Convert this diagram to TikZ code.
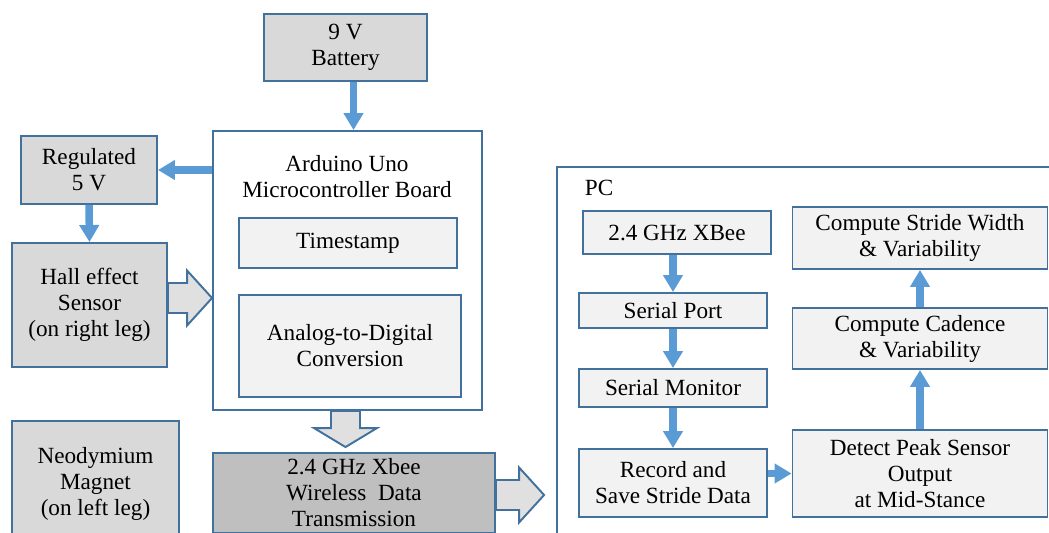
\documentclass[tikz,border=0pt]{standalone}
\usepackage{fontspec}
\setmainfont{Liberation Serif}
\usetikzlibrary{arrows.meta,calc}

\definecolor{edgeblue}{RGB}{65,113,156}
\definecolor{flowblue}{RGB}{91,155,213}
\definecolor{boxgray}{RGB}{217,217,217}
\definecolor{boxlight}{RGB}{242,242,242}
\definecolor{boxdark}{RGB}{191,191,191}
\definecolor{hollowgray}{RGB}{224,224,224}

\newcommand{\fatright}[2]{%
	\draw[hollow] let \p1=(#1), \p2=(#2) in
		(\x1,\y1+0.3cm) -- (\x2-0.5cm,\y1+0.3cm) -- (\x2-0.5cm,\y1+0.55cm) -- (\x2,\y1)
		-- (\x2-0.5cm,\y1-0.55cm) -- (\x2-0.5cm,\y1-0.3cm) -- (\x1,\y1-0.3cm) -- cycle;}
\newcommand{\fatdown}[2]{%
	\draw[hollow] let \p1=(#1), \p2=(#2) in
		(\x1-0.29cm,\y1) -- (\x1-0.29cm,\y2+0.38cm) -- (\x1-0.63cm,\y2+0.38cm) -- (\x1,\y2)
		-- (\x1+0.63cm,\y2+0.38cm) -- (\x1+0.29cm,\y2+0.38cm) -- (\x1+0.29cm,\y1) -- cycle;}

\begin{document}
\begin{tikzpicture}[x=0.02cm, y=-0.02cm, line width=1.1pt,
		box/.style={draw=edgeblue, align=center, inner sep=0pt, font=\fontsize{13.2}{14.8}\selectfont},
		graybox/.style={box, fill=boxgray},
		lightbox/.style={box, fill=boxlight},
		darkbox/.style={box, fill=boxdark},
		flow/.style={draw=flowblue, line width=0.15cm, -{Triangle[width=0.38cm, length=0.34cm]}},
		hollow/.style={draw=edgeblue, fill=hollowgray, line join=miter}]

	\clip (0,0) rectangle (1049,532);

	\node[graybox, minimum width=3.26cm, minimum height=1.34cm] (bat) at (345.5,47.5) {9 V\\Battery};
	\node[box, minimum width=5.38cm, minimum height=5.58cm] (ard) at (347.5,270.5) {};
	\node[box, draw=none] (ardtitle) at (347,177) {Arduino Uno\\Microcontroller Board};
	\node[lightbox, minimum width=4.36cm, minimum height=1.0cm] (stamp) at (348,243) {Timestamp};
	\node[lightbox, minimum width=4.44cm, minimum height=2.04cm] (adc) at (350,346) {Analog-to-Digital\\Conversion};
	\node[graybox, minimum width=2.72cm, minimum height=1.36cm] (reg) at (89,170) {Regulated\\5 V};
	\node[graybox, minimum width=3.1cm, minimum height=2.48cm] (hall) at (89.5,305) {Hall effect\\Sensor\\(on right leg)};
	\node[graybox, minimum width=3.34cm, minimum height=2.52cm] (magnet) at (95.5,484) {Neodymium\\Magnet\\(on left leg)};
	\node[darkbox, minimum width=5.64cm, minimum height=1.6cm] (xtx) at (354,493) {2.4 GHz Xbee\\Wireless\ \ Data\\Transmission};

	\node[box, minimum width=10.6cm, minimum height=7.6cm] (pc) at (822,357) {};
	\node[box, draw=none, anchor=west] (pclabel) at (584,188) {PC};
	\node[lightbox, minimum width=3.76cm, minimum height=0.86cm] (xrx) at (677,232.5) {2.4 GHz XBee};
	\node[lightbox, minimum width=3.76cm, minimum height=0.7cm] (port) at (673,310.5) {Serial Port};
	\node[lightbox, minimum width=3.76cm, minimum height=0.76cm] (mon) at (673,388) {Serial Monitor};
	\node[lightbox, minimum width=3.76cm, minimum height=1.36cm] (rec) at (673,483) {Record and\\Save Stride Data};
	\node[lightbox, minimum width=5.1cm, minimum height=1.74cm] (peak) at (920,473.5) {Detect Peak Sensor\\Output\\at Mid-Stance};
	\node[lightbox, minimum width=5.1cm, minimum height=1.22cm] (cad) at (920,338.5) {Compute Cadence\\\& Variability};
	\node[lightbox, minimum width=5.1cm, minimum height=1.24cm] (width) at (920,238) {Compute Stride Width\\\& Variability};

	\draw[flow] ([xshift=0.16cm]bat.south) -- ([xshift=0.16cm]bat.south |- ard.north);
	\draw[flow] (ard.west |- reg.east) -- (reg.east);
	\draw[flow] (reg.south) -- (hall.north);
	\draw[flow] (xrx.south -| port.north) -- (port.north);
	\draw[flow] (port.south) -- (mon.north);
	\draw[flow] (mon.south) -- (rec.north);
	\draw[flow] (rec.east |- peak.west) -- (peak.west);
	\draw[flow] (peak.north) -- (cad.south);
	\draw[flow] (cad.north) -- (width.south);

	\fatright{$(hall.east)+(0,-7)$}{$(ard.west |- hall.east)+(0,-7)$}
	\fatdown{$(ard.south)+(-2,0)$}{$(xtx.north)+(0,-5)$}
	\fatright{$(xtx.east)+(0,2)$}{$(pc.west |- xtx.east)+(-12,2)$}
\end{tikzpicture}
\end{document}
